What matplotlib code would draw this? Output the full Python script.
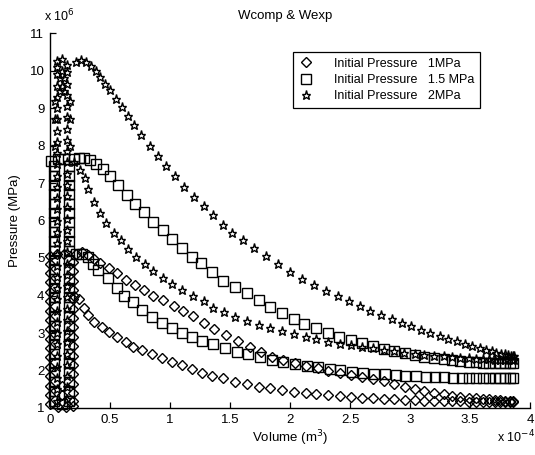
import numpy as np
import matplotlib
matplotlib.use("Agg")
import matplotlib.pyplot as plt

plt.rcParams['font.family'] = ['Liberation Sans', 'DejaVu Sans']

# ---------------- data (V in 1e-4 m^3, P in 1e6 Pa) ----------------
labels = ["Initial Pressure   1MPa", "Initial Pressure   1.5 MPa", "Initial Pressure   2MPa"]
xticks = [0, 0.5, 1, 1.5, 2, 2.5, 3, 3.5, 4]
xticklabels = ["0", "0.5", "1", "1.5", "2", "2.5", "3", "3.5", "4"]
yticks = [1, 2, 3, 4, 5, 6, 7, 8, 9, 10, 11]

# 1 MPa (diamonds)
d_tdc_V = [0.00, 0.00, 0.00, 0.00, 0.00, 0.00, 0.00, 0.00, 0.00, 0.00, 0.00, 0.00, 0.00, 0.00,
           0.00, 0.00, 0.00,
           0.06, 0.12,
           0.19, 0.19, 0.19, 0.19, 0.19, 0.19, 0.19, 0.19, 0.19, 0.19, 0.19, 0.19, 0.19, 0.19,
           0.19, 0.19, 0.19,
           0.13, 0.07, 0.10, 0.10]
d_tdc_P = [1.1, 1.35, 1.6, 1.85, 2.1, 2.35, 2.6, 2.85, 3.1, 3.35, 3.6, 3.85, 4.1, 4.35,
           4.6, 4.85, 5.05,
           5.12, 5.12,
           4.9, 4.65, 4.4, 4.15, 3.9, 3.65, 3.4, 3.15, 2.9, 2.65, 2.4, 2.15, 1.9, 1.65,
           1.4, 1.2, 1.05,
           1.03, 1.03, 1.6, 1.35]
d_comp_V = [0.20, 0.24, 0.28, 0.32, 0.37, 0.43, 0.49, 0.56, 0.63, 0.69, 0.77, 0.85, 0.93, 1.02,
            1.10, 1.18, 1.27, 1.35, 1.44, 1.54, 1.64, 1.74, 1.83, 1.93, 2.03, 2.13, 2.22, 2.32,
            2.42, 2.51, 2.60, 2.69, 2.78, 2.87, 2.96, 3.04, 3.12, 3.20, 3.28, 3.35, 3.42, 3.49,
            3.55, 3.61, 3.66, 3.71, 3.75, 3.79, 3.83, 3.86]
d_comp_P = [4.00, 3.90, 3.68, 3.48, 3.30, 3.16, 3.03, 2.89, 2.76, 2.64, 2.55, 2.45, 2.34, 2.23,
            2.14, 2.04, 1.94, 1.86, 1.79, 1.70, 1.63, 1.57, 1.53, 1.48, 1.44, 1.40, 1.37, 1.34,
            1.31, 1.29, 1.27, 1.26, 1.24, 1.23, 1.22, 1.21, 1.20, 1.19, 1.19, 1.18, 1.18, 1.17,
            1.17, 1.17, 1.16, 1.16, 1.16, 1.16, 1.16, 1.16]
d_exp_V = [0.22, 0.27, 0.32, 0.37, 0.42, 0.49, 0.56, 0.63, 0.71, 0.78, 0.86, 0.94, 1.03, 1.11,
           1.19, 1.28, 1.37, 1.47, 1.57, 1.67, 1.76, 1.85, 1.94, 2.04, 2.13, 2.23, 2.32, 2.42,
           2.51, 2.60, 2.69, 2.78, 2.87, 2.96, 3.04, 3.12, 3.20, 3.28, 3.35, 3.42, 3.49, 3.55,
           3.61, 3.66, 3.71, 3.75, 3.79, 3.83, 3.86]
d_exp_P = [5.12, 5.15, 5.08, 4.98, 4.88, 4.73, 4.59, 4.42, 4.27, 4.14, 4.00, 3.87, 3.73, 3.58,
           3.45, 3.28, 3.10, 2.94, 2.78, 2.63, 2.49, 2.37, 2.27, 2.19, 2.12, 2.06, 2.00, 1.94,
           1.88, 1.83, 1.77, 1.71, 1.64, 1.57, 1.51, 1.46, 1.41, 1.37, 1.33, 1.30, 1.28, 1.26,
           1.24, 1.23, 1.22, 1.21, 1.20, 1.20, 1.19]

# 1.5 MPa (squares)
s_tdc_V = [0.03, 0.03, 0.03, 0.03, 0.03, 0.03, 0.03, 0.03, 0.03, 0.03, 0.03, 0.03, 0.03, 0.03,
           0.03, 0.03, 0.03, 0.03, 0.03, 0.03, 0.03, 0.03, 0.03, 0.03, 0.03, 0.03,
           0.01, 0.07, 0.12,
           0.16, 0.16, 0.16, 0.16, 0.16, 0.16, 0.16, 0.16, 0.16, 0.16, 0.16, 0.16, 0.16, 0.16,
           0.16, 0.16, 0.16, 0.16, 0.16, 0.16, 0.16, 0.16, 0.16, 0.16, 0.16, 0.16,
           0.10]
s_tdc_P = [1.2, 1.45, 1.7, 1.95, 2.2, 2.45, 2.7, 2.95, 3.2, 3.45, 3.7, 3.95, 4.2, 4.45,
           4.7, 4.95, 5.2, 5.45, 5.7, 5.95, 6.2, 6.45, 6.7, 6.95, 7.2, 7.45,
           7.6, 7.65, 7.65,
           7.45, 7.2, 6.95, 6.7, 6.45, 6.2, 5.95, 5.7, 5.45, 5.2, 4.95, 4.7, 4.45, 4.2,
           3.95, 3.7, 3.45, 3.2, 2.95, 2.7, 2.45, 2.2, 1.95, 1.7, 1.45, 1.2,
           1.1]
s_comp_V = [0.22, 0.27, 0.32, 0.36, 0.40, 0.48, 0.56, 0.62, 0.69, 0.77, 0.85, 0.93, 1.02, 1.10,
            1.18, 1.27, 1.36, 1.46, 1.56, 1.65, 1.75, 1.85, 1.94, 2.04, 2.14, 2.23, 2.33, 2.42,
            2.52, 2.61, 2.70, 2.79, 2.88, 2.96, 3.05, 3.13, 3.21, 3.28, 3.36, 3.43, 3.49, 3.55,
            3.61, 3.66, 3.71, 3.75, 3.79, 3.83, 3.86]
s_comp_P = [5.12, 5.10, 5.02, 4.85, 4.68, 4.47, 4.20, 4.00, 3.82, 3.62, 3.43, 3.27, 3.13, 3.00,
            2.89, 2.80, 2.71, 2.60, 2.50, 2.44, 2.36, 2.29, 2.23, 2.18, 2.13, 2.09, 2.05, 2.01,
            1.97, 1.94, 1.92, 1.90, 1.88, 1.86, 1.85, 1.84, 1.83, 1.82, 1.81, 1.81, 1.80, 1.80,
            1.80, 1.79, 1.79, 1.79, 1.79, 1.79, 1.79]
s_exp_V = [0.20, 0.24, 0.28, 0.33, 0.38, 0.44, 0.50, 0.57, 0.64, 0.71, 0.78, 0.86, 0.94, 1.02,
           1.10, 1.18, 1.26, 1.35, 1.44, 1.54, 1.64, 1.74, 1.83, 1.93, 2.03, 2.12, 2.22, 2.32,
           2.41, 2.51, 2.60, 2.69, 2.78, 2.87, 2.96, 3.04, 3.12, 3.20, 3.28, 3.35, 3.42, 3.49,
           3.55, 3.61, 3.66, 3.71, 3.75, 3.79, 3.83, 3.86]
s_exp_P = [7.65, 7.68, 7.68, 7.62, 7.50, 7.38, 7.20, 6.95, 6.68, 6.45, 6.22, 5.97, 5.74, 5.50,
           5.26, 5.04, 4.86, 4.62, 4.40, 4.22, 4.06, 3.87, 3.70, 3.54, 3.38, 3.25, 3.13, 3.00,
           2.90, 2.81, 2.73, 2.65, 2.58, 2.52, 2.46, 2.41, 2.37, 2.33, 2.30, 2.27, 2.25, 2.23,
           2.22, 2.21, 2.20, 2.20, 2.19, 2.19, 2.19, 2.19]

# 2 MPa (stars)
p_tdc_V = [0.06, 0.06, 0.06, 0.06, 0.06, 0.06, 0.06, 0.06, 0.06, 0.06, 0.06, 0.06, 0.06, 0.06,
           0.06, 0.06, 0.06, 0.06, 0.06, 0.06, 0.06, 0.06, 0.06, 0.06, 0.06, 0.06, 0.06, 0.06,
           0.06, 0.06, 0.06, 0.06,
           0.10,
           0.14, 0.14, 0.14, 0.14, 0.14, 0.14, 0.14, 0.14, 0.14, 0.14, 0.14, 0.14, 0.14, 0.14,
           0.14, 0.14, 0.14, 0.14, 0.14, 0.14, 0.14, 0.14, 0.14, 0.14, 0.14, 0.14, 0.14, 0.14,
           0.14, 0.14, 0.14,
           0.04, 0.17, 0.04, 0.17, 0.08, 0.12, 0.08, 0.12, 0.10, 0.10, 0.04, 0.17]
p_tdc_P = [1.2, 1.5, 1.8, 2.1, 2.4, 2.7, 3.0, 3.3, 3.6, 3.9, 4.2, 4.5, 4.8, 5.1,
           5.4, 5.7, 6.0, 6.3, 6.6, 6.9, 7.2, 7.5, 7.8, 8.1, 8.4, 8.7, 9.0, 9.3,
           9.6, 9.9, 10.1, 10.25,
           10.3,
           10.15, 9.95, 9.65, 9.35, 9.05, 8.75, 8.45, 8.15, 7.85, 7.55, 7.25, 6.95, 6.65, 6.35,
           6.05, 5.75, 5.45, 5.15, 4.85, 4.55, 4.25, 3.95, 3.65, 3.35, 3.05, 2.75, 2.45, 2.15,
           1.85, 1.55, 1.25,
           8.0, 8.0, 8.7, 8.7, 9.45, 9.45, 9.8, 9.8, 9.6, 10.0, 9.2, 9.2]
p_comp_V = [0.20, 0.25, 0.29, 0.32, 0.37, 0.42, 0.47, 0.53, 0.59, 0.65, 0.72, 0.79, 0.86, 0.94,
            1.02, 1.10, 1.19, 1.28, 1.36, 1.45, 1.54, 1.64, 1.74, 1.83, 1.93, 2.03, 2.13, 2.22,
            2.32, 2.42, 2.51, 2.60, 2.69, 2.78, 2.87, 2.95, 3.04, 3.12, 3.20, 3.28, 3.35, 3.42,
            3.49, 3.55, 3.61, 3.66, 3.71, 3.75, 3.79, 3.82, 3.85, 3.87]
p_comp_P = [7.55, 7.35, 7.13, 6.85, 6.50, 6.20, 5.93, 5.67, 5.47, 5.25, 5.04, 4.84, 4.66, 4.48,
            4.30, 4.15, 4.00, 3.85, 3.68, 3.55, 3.44, 3.33, 3.22, 3.13, 3.05, 2.97, 2.89, 2.83,
            2.77, 2.71, 2.67, 2.63, 2.59, 2.55, 2.51, 2.48, 2.45, 2.42, 2.40, 2.38, 2.36, 2.34,
            2.33, 2.32, 2.31, 2.30, 2.29, 2.29, 2.28, 2.28, 2.27, 2.27]
p_exp_V = [0.22, 0.26, 0.30, 0.34, 0.38, 0.42, 0.46, 0.50, 0.55, 0.60, 0.65, 0.70, 0.76, 0.83,
           0.90, 0.97, 1.04, 1.12, 1.20, 1.28, 1.36, 1.44, 1.52, 1.61, 1.70, 1.80, 1.90, 2.00,
           2.10, 2.20, 2.30, 2.40, 2.49, 2.58, 2.67, 2.76, 2.85, 2.93, 3.01, 3.09, 3.17, 3.25,
           3.32, 3.39, 3.46, 3.52, 3.58, 3.63, 3.68, 3.72, 3.76, 3.79, 3.82, 3.84, 3.86, 3.87]
p_exp_P = [10.22, 10.27, 10.22, 10.12, 9.98, 9.82, 9.65, 9.48, 9.25, 9.02, 8.78, 8.55, 8.28, 7.98,
           7.72, 7.45, 7.18, 6.90, 6.62, 6.38, 6.14, 5.88, 5.68, 5.48, 5.28, 5.06, 4.85, 4.62,
           4.44, 4.29, 4.13, 3.98, 3.85, 3.72, 3.60, 3.49, 3.38, 3.28, 3.18, 3.08, 2.99, 2.92,
           2.84, 2.78, 2.72, 2.66, 2.60, 2.56, 2.52, 2.48, 2.45, 2.43, 2.41, 2.40, 2.39, 2.38]

# ---------------- figure ----------------
W, H = 535, 455
fig = plt.figure(figsize=(W / 100, H / 100), dpi=100)
ax = fig.add_axes([50 / W, 47 / H, 480 / W, 375 / H])

series = [
    (d_tdc_V + d_comp_V + d_exp_V, d_tdc_P + d_comp_P + d_exp_P, 'D', 5.2),
    (s_tdc_V + s_comp_V + s_exp_V, s_tdc_P + s_comp_P + s_exp_P, 's', 7.4),
    (p_tdc_V + p_comp_V + p_exp_V, p_tdc_P + p_comp_P + p_exp_P, '*', 6.6),
]
for (V, P, m, ms), lab in zip(series, labels):
    ax.plot(V, P, linestyle='none', marker=m, markersize=ms, markerfacecolor='none',
            markeredgecolor='black', markeredgewidth=1.0, label=lab, clip_on=False)

ax.set_xlim(0, 4)
ax.set_ylim(1, 11)
ax.set_xticks(xticks)
ax.set_xticklabels(xticklabels)
ax.set_yticks(yticks)
ax.tick_params(direction='in', length=4, width=0.9, labelsize=9.5, colors='black', pad=4)
for s in ['top', 'right']:
    ax.spines[s].set_visible(False)
for s in ['left', 'bottom']:
    ax.spines[s].set_linewidth(1.0)

ax.set_xlabel('Volume (m$^3$)', fontsize=9.5, labelpad=2)
ax.set_ylabel('Pressure (MPa)', fontsize=9.5, labelpad=6)
fig.text(285 / W, 1 - 16 / H, 'Wcomp & Wexp', ha='center', va='center', fontsize=9.5)
fig.text(44 / W, 1 - 16 / H, r'x 10$^6$', ha='left', va='center', fontsize=9)
fig.text(497 / W, 1 - 437 / H, r'x 10$^{-4}$', ha='left', va='center', fontsize=9)

leg = ax.legend(loc='upper left', bbox_to_anchor=(293 / W, 1 - 52 / H),
                bbox_transform=fig.transFigure, fontsize=9, frameon=True, fancybox=False,
                edgecolor='black', framealpha=1, borderpad=0.45, labelspacing=0.35,
                handlelength=1.2, handletextpad=1.6, borderaxespad=0)
leg.get_frame().set_linewidth(0.9)

fig.savefig('out.png', dpi=100)
